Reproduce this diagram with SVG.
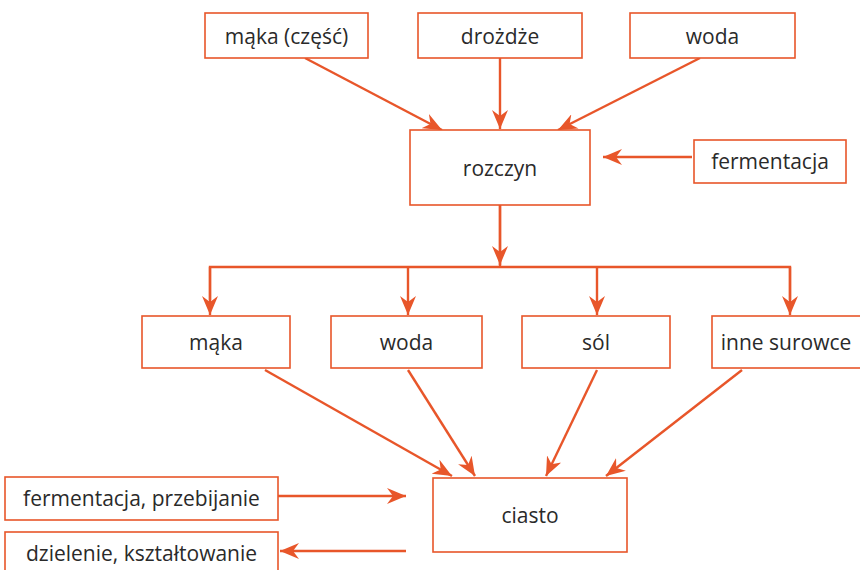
<svg xmlns="http://www.w3.org/2000/svg" width="860" height="570" viewBox="0 0 860 570">
<defs>
<marker id="ah" markerWidth="22" markerHeight="16" refX="19" refY="8" orient="auto" markerUnits="userSpaceOnUse">
<path d="M0,0 L19,8 L0,16 L6,8 Z" fill="#e8562a"/>
</marker>
<style>
.box{fill:#fff;stroke:#e8562a;stroke-width:1.6}
.t{font-family:"Open Sans","Lato","Liberation Sans",sans-serif;font-size:21px;fill:#2a2a2a;text-anchor:middle}
.c{stroke:#e8562a;stroke-width:2.4;fill:none}
.a{stroke:#e8562a;stroke-width:2.4;fill:none;marker-end:url(#ah)}
</style>
</defs>
<rect width="860" height="570" fill="#fff"/>
<g id="connectors">
<line class="a" x1="305" y1="58" x2="442" y2="130"/>
<line class="a" x1="500" y1="58" x2="500" y2="129"/>
<line class="a" x1="700" y1="58" x2="558" y2="130"/>
<line class="a" x1="692" y1="157" x2="603" y2="157"/>
<line class="c" x1="500" y1="205" x2="500" y2="267"/>
<line class="a" x1="500" y1="205" x2="500" y2="265"/>
<polyline class="c" points="210,300 210,267 790,267 790,300"/>
<line class="a" x1="210" y1="267" x2="210" y2="315"/>
<line class="a" x1="408" y1="267" x2="408" y2="315"/>
<line class="a" x1="597" y1="267" x2="597" y2="315"/>
<line class="a" x1="790" y1="267" x2="790" y2="315"/>
<line class="a" x1="265" y1="370" x2="452" y2="476"/>
<line class="a" x1="408" y1="370" x2="475" y2="476"/>
<line class="a" x1="597" y1="370" x2="546" y2="476"/>
<line class="a" x1="742" y1="370" x2="606" y2="476"/>
<line class="a" x1="278" y1="496" x2="406" y2="496"/>
<line class="a" x1="406" y1="551" x2="280" y2="551"/>
</g>
<g id="n-maka-czesc"><rect class="box" x="205" y="13" width="163" height="45"/><text class="t" x="286.5" y="44">mąka (część)</text></g>
<g id="n-drozdze"><rect class="box" x="418" y="13" width="164" height="45"/><text class="t" x="500" y="44">drożdże</text></g>
<g id="n-woda1"><rect class="box" x="630" y="13" width="165" height="45"/><text class="t" x="712.5" y="44">woda</text></g>
<g id="n-rozczyn"><rect class="box" x="410" y="130" width="180" height="75"/><text class="t" x="500" y="176">rozczyn</text></g>
<g id="n-fermentacja"><rect class="box" x="694" y="140" width="152" height="43"/><text class="t" x="770" y="169">fermentacja</text></g>
<g id="n-maka"><rect class="box" x="142" y="316" width="148" height="52"/><text class="t" x="216" y="350">mąka</text></g>
<g id="n-woda2"><rect class="box" x="331" y="316" width="151" height="52"/><text class="t" x="406.5" y="350">woda</text></g>
<g id="n-sol"><rect class="box" x="522" y="316" width="148" height="52"/><text class="t" x="596" y="350">sól</text></g>
<g id="n-inne"><rect class="box" x="712" y="316" width="150" height="52"/><text class="t" x="786" y="350">inne surowce</text></g>
<g id="n-ciasto"><rect class="box" x="433" y="478" width="194" height="74"/><text class="t" x="530" y="523">ciasto</text></g>
<g id="n-fermprzeb"><rect class="box" x="5" y="477" width="273" height="43"/><text class="t" x="141.5" y="506">fermentacja, przebijanie</text></g>
<g id="n-dziel"><rect class="box" x="5" y="532" width="273" height="44"/><text class="t" x="141.5" y="561">dzielenie, kształtowanie</text></g>
</svg>
